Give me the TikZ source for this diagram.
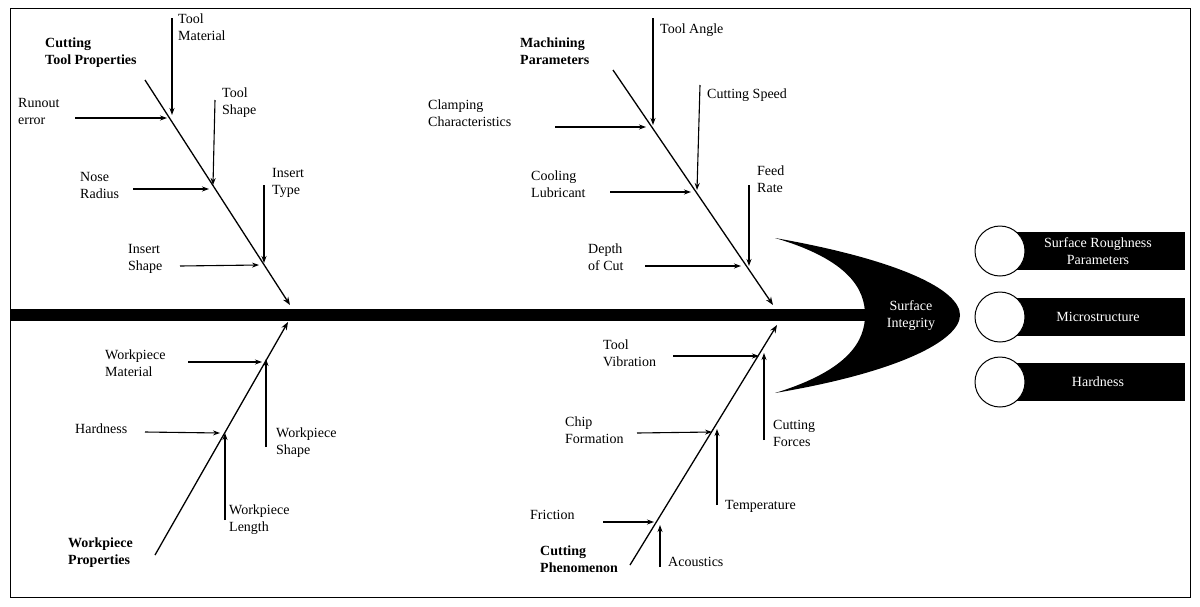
\documentclass[tikz,border=0pt]{standalone}
\usetikzlibrary{arrows.meta}
\usepackage{fontspec}
\setmainfont{Liberation Serif}
\begin{document}
\begin{tikzpicture}[x=1pt,y=-1pt,
  lab/.style={align=left,anchor=north west,inner sep=0pt,font=\fontsize{14}{17}\selectfont},
  blab/.style={lab,font=\fontsize{14}{17}\selectfont\bfseries},
  arr/.style={-{Stealth[length=7pt,width=5pt]},line width=1.1pt},
  bone/.style={-{Stealth[length=8pt,width=6pt]},line width=1.3pt}]
\useasboundingbox (0,0) rectangle (1200,606);
\draw[line width=1pt] (10,8) rectangle (1190,597);
% spine
\fill (10,309) rectangle (870,321);
% head
\fill (775,238) .. controls (900,260) and (960,290) .. (960,315)
  .. controls (960,340) and (900,372) .. (775,393)
  .. controls (850,370) and (865,340) .. (865,315)
  .. controls (865,290) and (850,260) .. (775,238) -- cycle;
\node[font=\fontsize{14}{17}\selectfont,text=white,align=center] (si) at (911,316) {Surface\\Integrity};
% outcomes
\foreach \y/\t/\n in {251/{Surface Roughness\\Parameters}/o1,317/Microstructure/o2,382/Hardness/o3}{
  \fill (1010,\y-19) rectangle (1185,\y+19);
  \draw[line width=1pt,fill=white] (1000,\y) circle (25);
  \node[font=\fontsize{14}{17}\selectfont,text=white,align=center] (\n) at (1098,\y) {\t};
}
% coordinates of bones
\coordinate (a1) at (145,80); \coordinate (a2) at (290,305);
\coordinate (b1) at (613,70); \coordinate (b2) at (773,305);
\coordinate (c1) at (155,555); \coordinate (c2) at (288,322);
\coordinate (d1) at (630,565); \coordinate (d2) at (777,325);
\draw[bone] (a1) -- (a2);
\draw[bone] (b1) -- (b2);
\draw[bone] (c1) -- (c2);
\draw[bone] (d1) -- (d2);
% labels
\node[blab] (A) at (45,38) {Cutting\\Tool Properties};
\node[blab] (B) at (520,38) {Machining\\Parameters};
\node[blab] (C) at (68,538) {Workpiece\\Properties};
\node[blab] (D) at (540,546) {Cutting\\Phenomenon};
% Cutting tool causes
\node[lab] (t1) at (178,14) {Tool\\Material};
\coordinate (t1s) at (172,18); \coordinate (t1e) at (172,115);
\draw[arr] (t1s) -- (t1e);
\node[lab] (t2) at (18,98) {Runout\\error};
\coordinate (t2s) at (75,118); \coordinate (t2e) at (167,118);
\draw[arr] (t2s) -- (t2e);
\node[lab] (t3) at (222,88) {Tool\\Shape};
\coordinate (t3s) at (215,100); \coordinate (t3e) at (213,185);
\draw[arr] (t3s) -- (t3e);
\node[lab] (t4) at (80,172) {Nose\\Radius};
\coordinate (t4s) at (133,189); \coordinate (t4e) at (209,189);
\draw[arr] (t4s) -- (t4e);
\node[lab] (t5) at (272,168) {Insert\\Type};
\coordinate (t5s) at (264,185); \coordinate (t5e) at (264,263);
\draw[arr] (t5s) -- (t5e);
\node[lab] (t6) at (128,244) {Insert\\Shape};
\coordinate (t6s) at (180,266); \coordinate (t6e) at (259,265);
\draw[arr] (t6s) -- (t6e);
% Machining
\node[lab] (m1) at (660,24) {Tool Angle};
\coordinate (m1s) at (653,18); \coordinate (m1e) at (653,125);
\draw[arr] (m1s) -- (m1e);
\node[lab] (m2) at (707,89) {Cutting Speed};
\coordinate (m2s) at (700,85); \coordinate (m2e) at (697,190);
\draw[arr] (m2s) -- (m2e);
\node[lab] (m3) at (428,100) {Clamping\\Characteristics};
\coordinate (m3s) at (555,127); \coordinate (m3e) at (646,127);
\draw[arr] (m3s) -- (m3e);
\node[lab] (m4) at (531,171) {Cooling\\Lubricant};
\coordinate (m4s) at (610,192); \coordinate (m4e) at (691,192);
\draw[arr] (m4s) -- (m4e);
\node[lab] (m5) at (757,166) {Feed\\Rate};
\coordinate (m5s) at (749,185); \coordinate (m5e) at (749,266);
\draw[arr] (m5s) -- (m5e);
\node[lab] (m6) at (588,244) {Depth\\of Cut};
\coordinate (m6s) at (645,266); \coordinate (m6e) at (741,266);
\draw[arr] (m6s) -- (m6e);
% Workpiece
\node[lab] (w1) at (105,350) {Workpiece\\Material};
\coordinate (w1s) at (188,362); \coordinate (w1e) at (262,362);
\draw[arr] (w1s) -- (w1e);
\node[lab] (w2) at (75,424) {Hardness};
\coordinate (w2s) at (145,432); \coordinate (w2e) at (220,433);
\draw[arr] (w2s) -- (w2e);
\node[lab] (w3) at (276,428) {Workpiece\\Shape};
\coordinate (w3s) at (266,447); \coordinate (w3e) at (266,359);
\draw[arr] (w3s) -- (w3e);
\node[lab] (w4) at (229,505) {Workpiece\\Length};
\coordinate (w4s) at (225,520); \coordinate (w4e) at (225,433);
\draw[arr] (w4s) -- (w4e);
% Phenomenon
\node[lab] (p1) at (603,340) {Tool\\Vibration};
\coordinate (p1s) at (673,356); \coordinate (p1e) at (759,356);
\draw[arr] (p1s) -- (p1e);
\node[lab] (p2) at (565,417) {Chip\\Formation};
\coordinate (p2s) at (637,433); \coordinate (p2e) at (712,432);
\draw[arr] (p2s) -- (p2e);
\node[lab] (p3) at (773,420) {Cutting\\Forces};
\coordinate (p3s) at (764,440); \coordinate (p3e) at (764,353);
\draw[arr] (p3s) -- (p3e);
\node[lab] (p4) at (725,500) {Temperature};
\coordinate (p4s) at (717,505); \coordinate (p4e) at (717,429);
\draw[arr] (p4s) -- (p4e);
\node[lab] (p5) at (530,510) {Friction};
\coordinate (p5s) at (603,522); \coordinate (p5e) at (654,522);
\draw[arr] (p5s) -- (p5e);
\node[lab] (p6) at (668,557) {Acoustics};
\coordinate (p6s) at (660,567); \coordinate (p6e) at (660,525);
\draw[arr] (p6s) -- (p6e);
\end{tikzpicture}
\end{document}
